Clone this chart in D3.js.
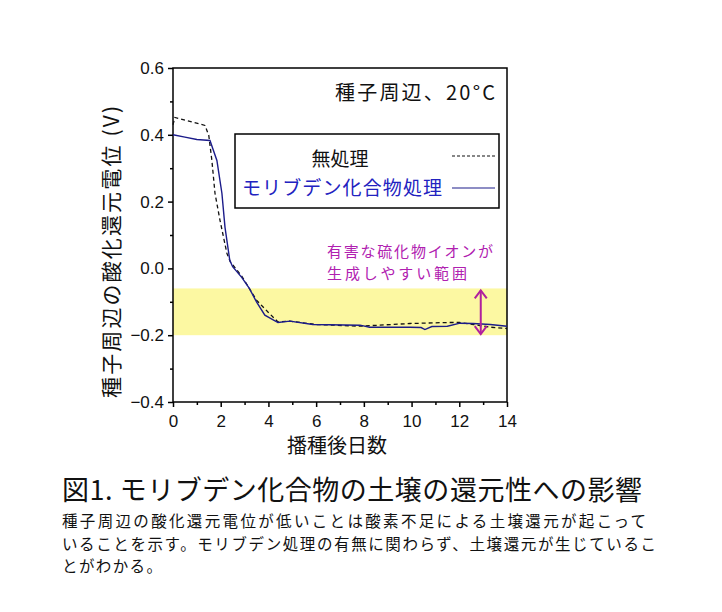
<!DOCTYPE html>
<html>
<head>
<meta charset="utf-8">
<script src="https://cdn.jsdelivr.net/npm/d3@7"></script>
<style>
  body { margin: 0; background: #fff; }
  svg { display: block; }
</style>
</head>
<body>
<div id="chart"></div>
<script>
// 無処理 (dashed)
const daysControl = [0, 0.08, 1.34, 1.5, 1.63, 1.76, 1.97, 2.26, 2.4, 2.9, 3.5, 3.97, 4.4, 4.9, 6, 7.84, 9.93, 11.5, 12, 12.6, 13.3, 14]
const potControl = [0.43, 0.452, 0.428, 0.398, 0.323, 0.225, 0.144, 0.045, 0.02, -0.025, -0.095, -0.13, -0.16, -0.158, -0.168, -0.173, -0.165, -0.162, -0.162, -0.168, -0.176, -0.18]

// モリブデン化合物処理 (solid)
const daysMo = [0, 0.5, 1.0, 1.55, 1.84, 2.05, 2.18, 2.38, 2.5, 2.88, 3.2, 3.5, 3.85, 4.4, 4.9, 5.86, 7.84, 8.24, 9.93, 10.4, 10.56, 10.85, 11.5, 12.03, 12.57, 13.3, 14]
const potMo = [0.40, 0.393, 0.386, 0.383, 0.323, 0.225, 0.123, 0.024, 0.005, -0.027, -0.06, -0.10, -0.14, -0.162, -0.158, -0.168, -0.17, -0.176, -0.176, -0.177, -0.183, -0.174, -0.173, -0.164, -0.165, -0.168, -0.173]

const xTicks = [0, 2, 4, 6, 8, 10, 12, 14]
const yTicks = [-0.4, -0.2, 0.0, 0.2, 0.4, 0.6]
const band = [-0.06, -0.2]

const noteLines = ['有害な硫化物イオンが', '生成しやすい範囲']
const captionTitle = '図1. モリブデン化合物の土壌の還元性への影響'
const captionLines = [
    '種子周辺の酸化還元電位が低いことは酸素不足による土壌還元が起こって',
    'いることを示す。モリブデン処理の有無に関わらず、土壌還元が生じているこ',
    'とがわかる。'
]

const margin = { top: 68, left: 173 }
const width = 334
const height = 334
const jp = "'Noto Sans CJK JP', sans-serif"
const latin = "'Liberation Sans', Arial, sans-serif"

const svg = d3.select('#chart')
    .append('svg')
        .attr('width', 722)
        .attr('height', 612)

svg.append('rect').attr('width', 722).attr('height', 612).attr('fill', '#fff')

const canvas = svg.append('g')
    .attr('transform', `translate(${margin.left}, ${margin.top})`)

const x = d3.scaleLinear().domain([0, 14]).range([0, width])
const y = d3.scaleLinear().domain([-0.4, 0.6]).range([height, 0])

// yellow band
canvas.append('rect')
    .attr('x', 0)
    .attr('y', y(band[0]))
    .attr('width', width)
    .attr('height', y(band[1]) - y(band[0]))
    .attr('fill', '#fcf8a2')

// axes
canvas.append('g')
    .attr('transform', `translate(0, ${height})`)
    .call(d3.axisBottom(x).tickValues(xTicks).tickSize(5).tickPadding(8).tickFormat(d3.format('d')))
canvas.append('g')
    .attr('transform', `translate(0, ${height})`)
    .call(d3.axisBottom(x).tickValues(d3.range(1, 14, 2)).tickSize(3).tickFormat(''))

canvas.append('g')
    .call(d3.axisLeft(y).tickValues(yTicks).tickSize(5).tickPadding(4).tickFormat(d3.format('.1f')))
canvas.append('g')
    .call(d3.axisLeft(y).tickValues([-0.3, -0.1, 0.1, 0.3, 0.5]).tickSize(3).tickFormat(''))

canvas.selectAll('.domain').remove()
canvas.selectAll('.tick line').attr('stroke', '#000').attr('stroke-width', 1.5)
canvas.selectAll('.tick text')
    .attr('fill', '#111')
    .style('font-family', latin)
    .style('font-size', '17px')

// frame
canvas.append('rect')
    .attr('width', width)
    .attr('height', height)
    .attr('fill', 'none')
    .attr('stroke', '#000')
    .attr('stroke-width', 1.5)

// lines
const line = d3.line()
    .x(d => x(d[0]))
    .y(d => y(d[1]))

canvas.append('path')
    .datum(d3.zip(daysControl, potControl))
    .attr('d', line)
    .attr('fill', 'none')
    .attr('stroke', '#111')
    .attr('stroke-width', 1.3)
    .attr('stroke-dasharray', '4,3')

canvas.append('path')
    .datum(d3.zip(daysMo, potMo))
    .attr('d', line)
    .attr('fill', 'none')
    .attr('stroke', '#1c1c8a')
    .attr('stroke-width', 1.4)

// harmful range arrow
const arrowX = x(12.9)
const arrow = canvas.append('g')
    .attr('stroke', '#b0209e')
    .attr('stroke-width', 2)
    .attr('fill', 'none')
arrow.append('line')
    .attr('x1', arrowX).attr('x2', arrowX)
    .attr('y1', y(band[0]) + 2).attr('y2', y(band[1]) - 1)
arrow.append('path')
    .attr('d', `M${arrowX - 6},${y(band[0]) + 10} L${arrowX},${y(band[0]) + 2} L${arrowX + 6},${y(band[0]) + 10}`)
arrow.append('path')
    .attr('d', `M${arrowX - 6},${y(band[1]) - 9} L${arrowX},${y(band[1]) - 1} L${arrowX + 6},${y(band[1]) - 9}`)

const note = canvas.append('text')
    .attr('fill', '#b020b0')
    .style('font-family', jp)
    .style('font-size', '15px')
note.selectAll('tspan')
    .data(noteLines)
    .enter()
    .append('tspan')
        .attr('x', 154)
        .attr('y', (d, i) => 189 + i * 22)
        .attr('textLength', (d, i) => i === 0 ? 166 : 140)
        .attr('lengthAdjust', 'spacing')
        .text(d => d)

// condition label
canvas.append('text')
    .attr('x', 322).attr('y', 32)
    .attr('text-anchor', 'end')
    .attr('fill', '#111')
    .attr('textLength', 160)
    .attr('lengthAdjust', 'spacing')
    .style('font-family', jp)
    .style('font-size', '20px')
    .text('種子周辺、20°C')

// legend
const legend = canvas.append('g').attr('transform', 'translate(62, 66)')
legend.append('rect')
    .attr('width', 264).attr('height', 74)
    .attr('fill', '#fff')
    .attr('stroke', '#000')
    .attr('stroke-width', 1.5)
legend.append('text')
    .attr('x', 105).attr('y', 32)
    .attr('text-anchor', 'middle')
    .attr('fill', '#111')
    .style('font-family', jp)
    .style('font-size', '19px')
    .text('無処理')
legend.append('line')
    .attr('x1', 217).attr('x2', 260).attr('y1', 22).attr('y2', 22)
    .attr('stroke', '#111').attr('stroke-width', 1.2).attr('stroke-dasharray', '3,2')
legend.append('text')
    .attr('x', 7).attr('y', 61)
    .attr('fill', '#2222c0')
    .attr('textLength', 200)
    .attr('lengthAdjust', 'spacing')
    .style('font-family', jp)
    .style('font-size', '19px')
    .text('モリブデン化合物処理')
legend.append('line')
    .attr('x1', 217).attr('x2', 260).attr('y1', 54).attr('y2', 54)
    .attr('stroke', '#1c1c8a').attr('stroke-width', 1.2)

// axis titles
svg.append('text')
    .attr('x', margin.left + width / 2 - 3).attr('y', 453)
    .attr('text-anchor', 'middle')
    .attr('fill', '#111')
    .attr('textLength', 100)
    .attr('lengthAdjust', 'spacing')
    .style('font-family', jp)
    .style('font-size', '20px')
    .text('播種後日数')

svg.append('text')
    .attr('transform', 'translate(119, 252) rotate(-90)')
    .attr('text-anchor', 'middle')
    .attr('fill', '#111')
    .attr('textLength', 292)
    .attr('lengthAdjust', 'spacing')
    .style('font-family', jp)
    .style('font-size', '21px')
    .text('種子周辺の酸化還元電位 (V)')

// caption
svg.append('text')
    .attr('x', 62).attr('y', 500)
    .attr('fill', '#111')
    .attr('textLength', 580)
    .attr('lengthAdjust', 'spacing')
    .style('font-family', jp)
    .style('font-size', '27px')
    .text(captionTitle)

const captionLengths = [584, 594, 100]
const caption = svg.append('text')
    .attr('fill', '#111')
    .style('font-family', jp)
    .style('font-size', '15.5px')
caption.selectAll('tspan')
    .data(captionLines)
    .enter()
    .append('tspan')
        .attr('x', 62)
        .attr('y', (d, i) => 527 + i * 22.6)
        .attr('textLength', (d, i) => captionLengths[i])
        .attr('lengthAdjust', 'spacing')
        .text(d => d)
</script>
</body>
</html>
